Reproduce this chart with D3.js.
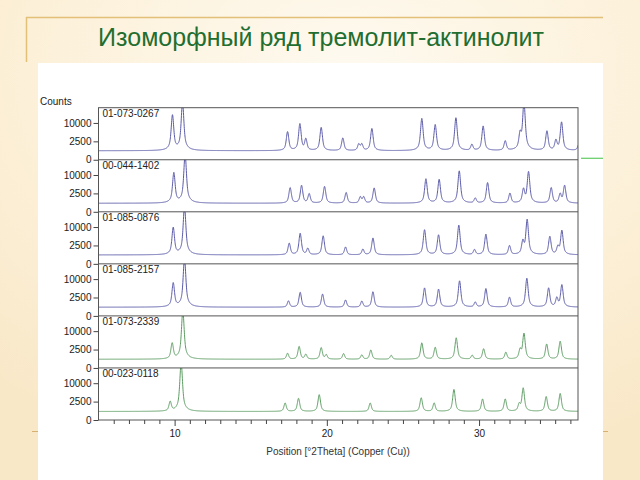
<!DOCTYPE html>
<html><head><meta charset="utf-8">
<script src="https://cdn.jsdelivr.net/npm/d3@7"></script>
<style>
html,body{margin:0;padding:0;}
body{width:640px;height:480px;overflow:hidden;}
</style></head>
<body><svg id="c" width="640" height="480"></svg>
<script>
// ---------- data ----------
const title = "Изоморфный ряд тремолит-актинолит";
const yAxisTitle = "Counts";
const xAxisTitle = "Position [°2Theta] (Copper (Cu))";
const patternIds = ["01-073-0267","00-044-1402","01-085-0876","01-085-2157","01-073-2339","00-023-0118"];
const yTickValues = [0, 2500, 10000];
const xMajorTicks = [10, 20, 30];
const xMinorTicks = [6,7,8,9,11,12,13,14,15,16,17,18,19,21,22,23,24,25,26,27,28,29,31,32,33,34,35,36];
const backgroundCounts = [600, 540, 590, 560, 560, 540];
// peaks: [2theta, counts]
const peaks_0267 = [[9.86,14200],[10.52,24000],[17.42,5200],[18.23,9000],[18.62,2600],[19.63,7100],[21.05,2900],[22.1,1200],[22.3,1200],[22.96,6600],[26.24,12000],[27.12,8500],[28.48,12400],[29.53,1100],[30.27,7800],[31.72,2000],[32.70,4600],[32.95,24000],[34.46,5500],[35.05,2200],[35.42,9900],[36.6,2400]];
const peaks_1402 = [[9.95,10800],[10.69,24000],[17.59,3750],[18.34,4600],[18.84,1850],[19.85,4200],[21.27,2200],[22.2,1100],[22.42,1100],[23.11,3650],[26.51,7500],[27.38,7200],[28.70,11800],[29.75,820],[30.56,5750],[32.03,2000],[32.92,3300],[33.25,11400],[34.74,3750],[35.33,1850],[35.62,4600]];
const peaks_0876 = [[9.91,9200],[10.65,24000],[17.53,2550],[18.25,6300],[18.75,1150],[19.76,5200],[21.23,1500],[22.37,1000],[23.03,4350],[26.42,8000],[27.34,5600],[28.67,10450],[29.70,880],[30.45,5900],[32.00,1850],[32.88,3300],[33.16,14000],[34.65,4950],[35.18,1600],[35.44,7700]];
const peaks_2157 = [[9.91,7500],[10.65,24000],[17.48,1100],[18.25,3550],[19.72,2950],[21.23,1300],[22.30,1050],[23.03,3750],[26.42,5200],[27.34,4700],[28.72,8500],[29.75,820],[30.45,4950],[32.00,2000],[33.14,9900],[34.57,5200],[35.11,1850],[35.44,6600]];
const peaks_2339 = [[9.84,4000],[10.54,24000],[17.42,1020],[18.18,2850],[18.62,800],[19.63,2480],[19.96,720],[21.10,960],[22.30,700],[22.89,1820],[24.23,620],[26.24,4100],[27.12,2580],[28.50,6150],[29.55,620],[30.30,2150],[31.76,1260],[32.70,2000],[32.95,8300],[34.44,3650],[35.33,4700]];
const peaks_0118 = [[9.71,1950],[10.43,24000],[17.26,1600],[18.14,2920],[19.50,4200],[22.85,1600],[26.20,3100],[27.05,1600],[28.35,6350],[30.23,2720],[31.72,2720],[32.64,1350],[32.90,7050],[34.41,3500],[35.33,4650]];
const allPeaks = [peaks_0267, peaks_1402, peaks_0876, peaks_2157, peaks_2339, peaks_0118];

// ---------- layout ----------
const svg = d3.select("#c");
const W = 640, H = 480;
const plotL = 98.5, plotR = 578, plotT = 107.7, plotB = 420;
const nP = patternIds.length;
const panelH = (plotB - plotT) / nP;
const lineColors = ["#5a5aa8","#5a5aa8","#5a5aa8","#5a5aa8","#5c9c62","#5c9c62"];
const font = "'Liberation Sans', Arial, sans-serif";

// background
const defs = svg.append("defs");
const rg = defs.append("radialGradient").attr("id","bg").attr("cx","55%").attr("cy","15%").attr("r","85%");
rg.append("stop").attr("offset","0%").attr("stop-color","#fefaf0");
rg.append("stop").attr("offset","60%").attr("stop-color","#fcf0d8");
rg.append("stop").attr("offset","100%").attr("stop-color","#f9e8c8");
svg.append("rect").attr("width",W).attr("height",H).attr("fill","url(#bg)");

// decorative golden lines
svg.append("line").attr("x1",26).attr("x2",603).attr("y1",17.5).attr("y2",17.5).attr("stroke","#e2c078").attr("stroke-width",1.5);
svg.append("line").attr("x1",26.5).attr("x2",26.5).attr("y1",17).attr("y2",62).attr("stroke","#e2c078").attr("stroke-width",1.5);
svg.append("line").attr("x1",32).attr("x2",608).attr("y1",431.5).attr("y2",431.5).attr("stroke","#d8b070").attr("stroke-width",1.2);

// title
svg.append("text").attr("x",321).attr("y",46).attr("text-anchor","middle")
  .attr("font-family",font).attr("font-size",25).attr("fill","#226e30").text(title);

// white chart area
svg.append("rect").attr("x",38).attr("y",63).attr("width",565).attr("height",H-63).attr("fill","#ffffff");

// green marker line at right
svg.append("line").attr("x1",581).attr("x2",603).attr("y1",158.3).attr("y2",158.3).attr("stroke","#6ccf6c").attr("stroke-width",1.3);

// scales
const x = d3.scaleLinear().domain([5, 36.5]).range([plotL, plotR]);
const xs = d3.range(5, 36.5001, 0.01);
const w = 0.16, eta = 0.6, k = 4*Math.LN2;
function profile(peaks, bg){
  return xs.map(t => {
    let s = bg;
    for (const [p,h] of peaks){
      const d = (t-p)/w; const d2 = d*d;
      if (d2 > 4000) continue;
      s += h*(eta/(1+4*d2) + (1-eta)*Math.exp(-k*d2));
    }
    return [t, s];
  });
}

svg.append("text").attr("x",40).attr("y",104.5).attr("font-family",font).attr("font-size",10).attr("fill","#222").text(yAxisTitle);

allPeaks.forEach((peaks, i) => {
  const top = plotT + i*panelH, bot = top + panelH;
  const y = d3.scaleSqrt().domain([0, 20000]).range([bot, top]).clamp(true);
  const cid = "clip"+i;
  defs.append("clipPath").attr("id",cid).append("rect").attr("x",plotL).attr("y",top).attr("width",plotR-plotL).attr("height",panelH);
  const line = d3.line().x(d=>x(d[0])).y(d=>y(d[1]));
  svg.append("path").datum(profile(peaks, backgroundCounts[i]))
    .attr("clip-path",`url(#${cid})`)
    .attr("d",line).attr("fill","none").attr("stroke",lineColors[i]).attr("stroke-width",1);
  // y axis
  const ax = svg.append("g").attr("transform",`translate(${plotL},0)`)
    .call(d3.axisLeft(y).tickValues(yTickValues).tickSize(5).tickPadding(2).tickFormat(d3.format("d")));
  ax.select(".domain").remove();
  ax.selectAll("line").attr("stroke","#444");
  ax.selectAll("text").attr("font-family",font).attr("font-size",10).attr("fill","#222");
  // separator
  if (i>0) svg.append("line").attr("x1",plotL).attr("x2",plotR).attr("y1",top).attr("y2",top).attr("stroke","#555").attr("stroke-width",1);
  // label
  svg.append("text").attr("x",plotL+4).attr("y",top+9).attr("font-family",font).attr("font-size",10).attr("fill","#222").text(patternIds[i]);
});

// frame
svg.append("rect").attr("x",plotL).attr("y",plotT).attr("width",plotR-plotL).attr("height",plotB-plotT)
  .attr("fill","none").attr("stroke","#555").attr("stroke-width",1);

// x axis
const gMin = svg.append("g").attr("transform",`translate(0,${plotB})`)
  .call(d3.axisBottom(x).tickValues(xMinorTicks).tickSize(4).tickFormat(""));
gMin.select(".domain").remove();
gMin.selectAll("line").attr("stroke","#444");
const gMaj = svg.append("g").attr("transform",`translate(0,${plotB})`)
  .call(d3.axisBottom(x).tickValues(xMajorTicks).tickSize(6).tickPadding(4));
gMaj.select(".domain").remove();
gMaj.selectAll("line").attr("stroke","#444");
gMaj.selectAll("text").attr("font-family",font).attr("font-size",10).attr("fill","#222");

svg.append("text").attr("x",338).attr("y",455).attr("text-anchor","middle")
  .attr("font-family",font).attr("font-size",10).attr("fill","#333").text(xAxisTitle);
</script></body></html>
